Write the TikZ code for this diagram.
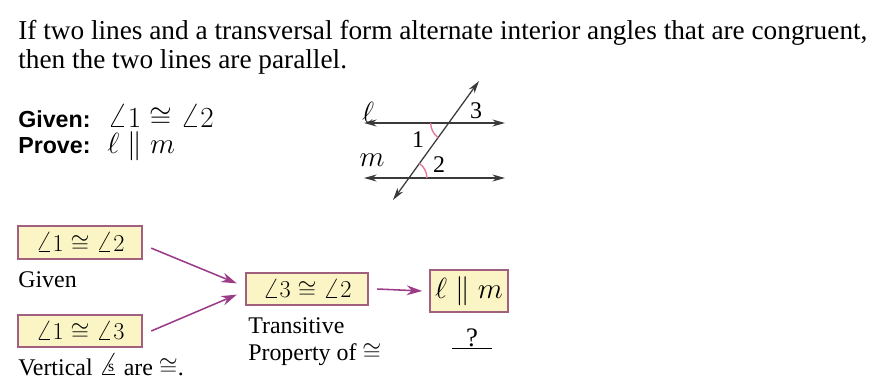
\documentclass[tikz,border=0pt]{standalone}
\usepackage{graphicx}
\usepackage{fontspec}
\setmainfont{Liberation Serif}
\newfontfamily\headfont{Liberation Sans}
\usetikzlibrary{arrows.meta,angles}

\definecolor{boxfill}{HTML}{FBF4C4}
\definecolor{boxline}{HTML}{A0607E}
\definecolor{flowarrow}{HTML}{9C3C88}
\definecolor{arcpink}{HTML}{E27AA2}
\definecolor{figline}{HTML}{3A3A3A}

% wider angle sign, and its plural form
\newcommand{\ang}{\mathord{\scalebox{1.3}[1.2]{$\angle$}}}
\newcommand{\angs}{\mbox{\scalebox{1.5}[1.35]{$\angle$}\kern-0.42em\raisebox{0.3ex}{\fontsize{11}{11}\selectfont s}\kern0.15em}}

\tikzset{
    stmt/.style={anchor=base west, inner sep=0pt, font=\fontsize{19.4}{23}\selectfont},
    lbl/.style={anchor=base west, inner sep=0pt, font=\fontsize{17}{20}\selectfont},
    mathlbl/.style={anchor=base west, inner sep=0pt, font=\fontsize{19.5}{22}\selectfont},
    head/.style={anchor=base west, inner sep=0pt, font=\headfont\bfseries\fontsize{16.5}{20}\selectfont},
    stepbox/.style={draw=boxline, line width=1.1pt, fill=boxfill, inner sep=0pt,
        font=\fontsize{18}{22}\selectfont},
    flow/.style={draw=flowarrow, line width=1.1pt, -{Stealth[length=11pt,width=7pt]}},
    figarrow/.style={draw=figline, line width=0.9pt, {Stealth[length=9pt,width=5pt]}-{Stealth[length=9pt,width=5pt]}},
    anglearc/.style={draw=arcpink, line width=1pt, angle radius=0.45cm},
}

\begin{document}
\begin{tikzpicture}[x=0.025cm, y=0.025cm]
    \useasboundingbox (0,0) rectangle (886,-390);

    % theorem statement
    \node[stmt] (line1) at (18,-39) {If two lines and a transversal form alternate interior angles that are congruent,};
    \node[stmt] (line2) at (18,-68) {then the two lines are parallel.};

    % given and prove
    \node[head] (given) at (18,-127) {Given:};
    \node[mathlbl] (givenm) at (107,-127) {$\ang 1 \cong \ang 2$};
    \node[head] (prove) at (18,-153) {Prove:};
    \node[mathlbl, font=\fontsize{20}{22}\selectfont] (provem) at (107,-153) {$\ell \parallel m$};

    % figure with two lines and a transversal
    \coordinate (l1) at (364,-123);
    \coordinate (l2) at (505,-123);
    \coordinate (m1) at (364,-178);
    \coordinate (m2) at (505,-178);
    \coordinate (t1) at (393,-200);
    \coordinate (t2) at (479,-81);
    \coordinate (pl) at (intersection of l1--l2 and t1--t2);
    \coordinate (pm) at (intersection of m1--m2 and t1--t2);
    \draw[figarrow] (l1) -- (l2);
    \draw[figarrow] (m1) -- (m2);
    \draw[figarrow] (t1) -- (t2);
    \pic[anglearc] {angle = l1--pl--t1};
    \pic[anglearc] {angle = m2--pm--t2};
    \node[font=\fontsize{20}{20}\selectfont] (lname) at (368,-112) {$\ell$};
    \node[font=\fontsize{20}{20}\selectfont] (mname) at (372,-160) {$m$};
    \node[font=\fontsize{17}{20}\selectfont] (a3) at (476,-111) {3};
    \node[font=\fontsize{17}{20}\selectfont] (a1) at (418,-140) {1};
    \node[font=\fontsize{17}{20}\selectfont] (a2) at (439,-165) {2};

    % flow proof
    \node[stepbox, minimum width=3.1cm, minimum height=0.83cm] (s1) at (80,-242.5) {$\ang 1 \cong \ang 2$};
    \node[lbl] (r1) at (18,-287) {Given};
    \node[stepbox, minimum width=3.1cm, minimum height=0.8cm] (s2) at (80,-331) {$\ang 1 \cong \ang 3$};
    \node[lbl] (r2) at (18,-375) {Vertical \angs\ are $\cong$.};
    \node[stepbox, minimum width=3.05cm, minimum height=0.8cm] (s3) at (307,-289) {$\ang 3 \cong \ang 2$};
    \node[lbl] (r3a) at (248,-333) {Transitive};
    \node[lbl] (r3b) at (248,-360) {Property of $\cong$};
    \node[stepbox, minimum width=1.95cm, minimum height=1.05cm, font=\fontsize{20}{22}\selectfont] (s4) at (469,-291) {$\ell \parallel m$};
    \node[anchor=base, inner sep=0pt, font=\fontsize{19}{20}\selectfont] (r4) at (472,-346) {\underline{\makebox[1cm]{?}}};

    \draw[flow] ([xshift=6pt,yshift=-4pt]s1.east) -- ([xshift=-6pt,yshift=4pt]s3.west);
    \draw[flow] ([xshift=6pt]s2.east) -- ([xshift=-6pt,yshift=-4pt]s3.west);
    \draw[flow] ([xshift=6pt]s3.east) -- ([xshift=-5pt]s4.west);
\end{tikzpicture}
\end{document}
